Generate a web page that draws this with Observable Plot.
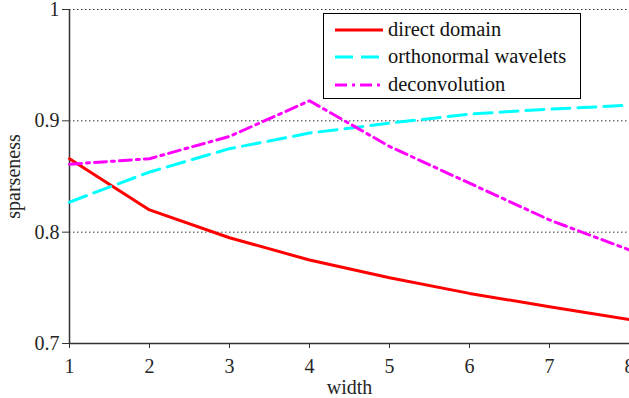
<!DOCTYPE html>
<html>
<head>
<meta charset="utf-8">
<script src="https://cdn.jsdelivr.net/npm/d3@7"></script>
<script src="https://cdn.jsdelivr.net/npm/@observablehq/plot@0.6"></script>
<style>
  html, body { margin: 0; padding: 0; background: white; }
  #wrap { position: relative; width: 629px; height: 398px; overflow: hidden; }
  #legend { position: absolute; left: 323px; top: 13px; width: 258px; height: 86px;
    box-sizing: border-box; border: 1.5px solid #000; background: #fff;
    font-family: "Liberation Serif", "Times New Roman", serif; font-size: 20.5px; color: #111; }
  .row { position: absolute; left: 0; height: 24px; width: 100%; }
  .row svg { position: absolute; left: 11px; top: 0; }
  .row span { position: absolute; left: 64px; top: 50%; transform: translateY(-54%); white-space: nowrap; }
</style>
</head>
<body>
<div id="wrap"><div id="chart"></div><div id="legend"></div></div>
<script>
const widths = [1, 2, 3, 4, 5, 6, 7, 8];
const directDomain = [0.866, 0.820, 0.795, 0.775, 0.759, 0.745, 0.733, 0.7215];
const orthonormalWavelets = [0.827, 0.854, 0.875, 0.889, 0.898, 0.906, 0.9105, 0.914];
const deconvolution = [0.861, 0.866, 0.886, 0.918, 0.877, 0.844, 0.811, 0.784];
const seriesNames = ["direct domain", "orthonormal wavelets", "deconvolution"];
const seriesColors = ["#ff0000", "#00ffff", "#ff00ff"];
const seriesDash = ["none", "18,8", "12,5,3,5"];
const yTicks = [0.7, 0.8, 0.9, 1];
const yTickLabels = ["0.7", "0.8", "0.9", "1"];
const gridTicks = [0.8, 0.9, 1];
const xLabel = "width";
const yLabel = "sparseness";

const seriesValues = [directDomain, orthonormalWavelets, deconvolution];
const rows = seriesValues.flatMap((vals, i) => vals.map((v, j) => ({series: seriesNames[i], width: widths[j], value: v})));

const font = "'Liberation Serif', 'Times New Roman', serif";
const chart = Plot.plot({
  width: 629, height: 398,
  marginLeft: 69, marginRight: 0, marginTop: 9, marginBottom: 55,
  style: {fontFamily: font, fontSize: "20px", color: "#262626", background: "white", overflow: "visible"},
  x: {domain: [1, 8]},
  y: {domain: [0.7, 1]},
  marks: [
    Plot.gridY(gridTicks, {stroke: "#333", strokeOpacity: 1, strokeWidth: 1, strokeDasharray: "1.5,2.5"}),
    Plot.axisX(widths, {tickSize: 5, tickPadding: 10, label: null, fontSize: 20, stroke: "#333"}),
    Plot.axisY(yTicks, {tickSize: 7, tickPadding: 3, label: null, fontSize: 20, stroke: "#333",
      tickFormat: d => yTickLabels[yTicks.indexOf(d)]}),
    Plot.ruleX([1], {stroke: "#333", strokeWidth: 1.5}),
    Plot.ruleY([0.7], {stroke: "#333", strokeWidth: 1.5}),
    ...seriesNames.map((name, i) => Plot.line(rows.filter(r => r.series === name), {
      x: "width", y: "value", stroke: seriesColors[i], strokeWidth: 3,
      strokeDasharray: seriesDash[i] === "none" ? null : seriesDash[i], strokeLinejoin: "round"
    })),
    Plot.text([xLabel], {frameAnchor: "bottom", lineAnchor: "middle", textAnchor: "middle", dy: 44, fontSize: 20, fill: "#262626"}),
    Plot.text([yLabel], {frameAnchor: "left", lineAnchor: "middle", textAnchor: "middle", dx: -56, rotate: -90, fontSize: 20, fill: "#262626"})
  ]
});
document.getElementById("chart").appendChild(chart);

const legend = document.getElementById("legend");
const rowCenters = [15.7, 43.3, 71];
seriesNames.forEach((name, i) => {
  const row = document.createElement("div");
  row.className = "row";
  row.style.top = (rowCenters[i] - 12) + "px";
  const dash = seriesDash[i] === "none" ? "" : `stroke-dasharray="${seriesDash[i]}"`;
  row.innerHTML = `<svg width="50" height="24"><line x1="0" x2="48" y1="12" y2="12" stroke="${seriesColors[i]}" stroke-width="3" ${dash}/></svg><span>${name}</span>`;
  legend.appendChild(row);
});
</script>
</body>
</html>
